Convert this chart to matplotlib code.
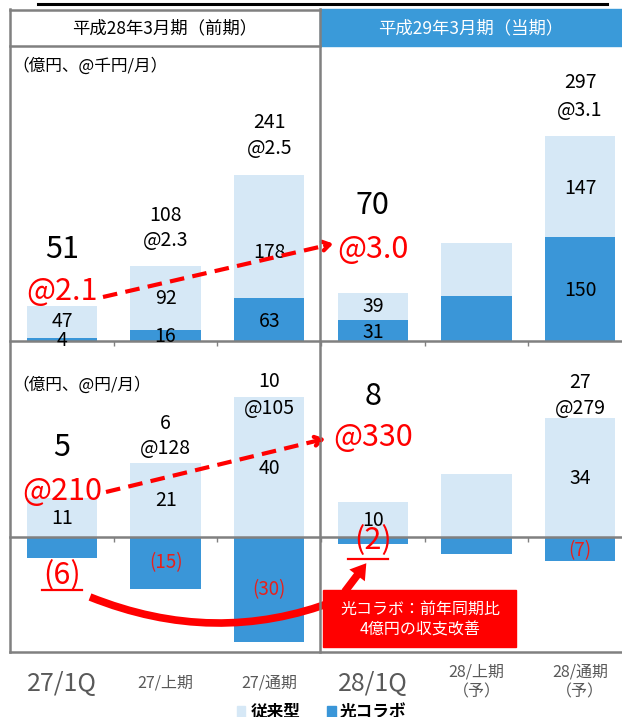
import numpy as np
import matplotlib
matplotlib.use('Agg')
import matplotlib.pyplot as plt
from matplotlib.lines import Line2D
from matplotlib.patches import Rectangle, FancyArrowPatch, PathPatch
from matplotlib.path import Path
import matplotlib.transforms as mtrans

plt.rcParams['font.family'] = ['Noto Sans CJK JP', 'DejaVu Sans']

# ---------------- data ----------------
categories = ['27/1Q', '27/上期', '27/通期', '28/1Q', '28/上期\n（予）', '28/通期\n（予）']
rev_legacy = [47, 92, 178, 39, 77, 147]
rev_hikari = [4, 16, 63, 31, 65, 150]
rev_total = ['51', '108', '241', '70', '', '297']
rev_arpu = ['@2.1', '@2.3', '@2.5', '@3.0', '', '@3.1']
prof_legacy = [11, 21, 40, 10, 18, 34]
prof_hikari = [-6, -15, -30, -2, -5, -7]
prof_total = ['5', '6', '10', '8', '', '27']
prof_arpu = ['@210', '@128', '@105', '@330', '', '@279']
legend_labels = ['従来型', '光コラボ']
header_labels = ['平成28年3月期（前期）', '平成29年3月期（当期）']

LIGHT = '#d6e8f6'
BLUE = '#3a96d8'
HDR = '#3a9ad9'
GRAY = '#808080'
RED = '#ff0000'

W, H = 622, 717
fig = plt.figure(figsize=(W / 100, H / 100), dpi=100)


def fx(v):
    return v / W


def fy(v):
    return 1 - v / H


ax1 = fig.add_axes([fx(10), fy(341), fx(622) - fx(10), fy(46) - fy(341)])
ax2 = fig.add_axes([fx(10), fy(652), fx(622) - fx(10), fy(341) - fy(652)])

x = np.arange(len(categories))
bw = 0.68
for ax in (ax1, ax2):
    ax.set_xlim(-0.502, 5.405)
    for s in ax.spines.values():
        s.set_visible(False)
    ax.spines['bottom'].set_visible(True)
    ax.spines['bottom'].set_color(GRAY)
    ax.spines['bottom'].set_linewidth(1.8)
    ax.set_yticks([])
    ax.set_xticks(x[:-1] + 0.5)
    ax.tick_params(axis='x', length=3.6, width=1, color=GRAY, labelbottom=False)
    ax.patch.set_alpha(0)

ax1.set_ylim(0, 427.5)
ax2.set_ylim(-32.9, 56)
ax2.spines['bottom'].set_position(('data', 0))

ax1.bar(x, rev_hikari, bw, color=BLUE, linewidth=0, label=legend_labels[1])
ax1.bar(x, rev_legacy, bw, bottom=rev_hikari, color=LIGHT, linewidth=0, label=legend_labels[0])
ax2.bar(x, prof_legacy, bw, color=LIGHT, linewidth=0)
ax2.bar(x, prof_hikari, bw, color=BLUE, linewidth=0)

# ---------------- frame ----------------
def fline(xs, ys, **kw):
    fig.add_artist(Line2D([fx(v) for v in xs], [fy(v) for v in ys], **kw))

fig.add_artist(Rectangle((fx(320), fy(46)), fx(622) - fx(320), fy(9) - fy(46),
                         color=HDR, transform=fig.transFigure, zorder=0))
fline([38, 607], [4, 4], color='black', lw=2.2)
fline([10, 320], [9.5, 9.5], color=GRAY, lw=1.8)
fline([10, 320], [46, 46], color=GRAY, lw=1.8)
fline([10, 10], [9, 652], color=GRAY, lw=1.8)
fline([320, 320], [9, 652], color=GRAY, lw=1.8)
fline([10, 622], [652, 652], color=GRAY, lw=1.8)

fig.text(fx(165), fy(28), header_labels[0], ha='center', va='center', fontsize=12.5, color='black')
fig.text(fx(471), fy(28), header_labels[1], ha='center', va='center', fontsize=12.5, color='white')

fig.text(fx(12), fy(66), '（億円、@千円/月）', ha='left', va='center', fontsize=12, color='black')
fig.text(fx(12), fy(385), '（億円、@円/月）', ha='left', va='center', fontsize=12, color='black')


def T(ax, xd, ypx, s, **kw):
    tr = mtrans.blended_transform_factory(ax.transData, fig.transFigure)
    kw.setdefault('ha', 'center')
    kw.setdefault('va', 'center')
    return ax.text(xd, fy(ypx), s, transform=tr, **kw)

SM = 14
BIG = 22

# ---- top panel labels ----
seg_top_legacy_y = [322, 298, 253, 307, None, 188]
seg_top_hikari_y = [340, 337, 322, 332, None, 291]
for i in range(len(categories)):
    if seg_top_legacy_y[i] is not None:
        T(ax1, x[i], seg_top_legacy_y[i], str(rev_legacy[i]), fontsize=SM)
        T(ax1, x[i], seg_top_hikari_y[i], str(rev_hikari[i]), fontsize=SM)

tot_top_y = [250, 215, 123, 205, None, 83]
arpu_top_y = [292, 240, 149, 250, None, 111]
big_idx = [0, 3]
for i in range(len(categories)):
    if tot_top_y[i] is None:
        continue
    if i in big_idx:
        T(ax1, x[i], tot_top_y[i], rev_total[i], fontsize=BIG)
        T(ax1, x[i], arpu_top_y[i], rev_arpu[i], fontsize=BIG, color=RED)
    else:
        T(ax1, x[i], tot_top_y[i], rev_total[i], fontsize=SM)
        T(ax1, x[i], arpu_top_y[i], rev_arpu[i], fontsize=SM)

# ---- bottom panel labels ----
seg_bot_legacy_y = [518, 501, 468, 521, None, 479]
for i in range(len(categories)):
    if seg_bot_legacy_y[i] is not None:
        T(ax2, x[i], seg_bot_legacy_y[i], str(prof_legacy[i]), fontsize=SM)

tot_bot_y = [447, 423, 382, 397, None, 383]
arpu_bot_y = [492, 448, 408, 438, None, 408]
for i in range(len(categories)):
    if tot_bot_y[i] is None:
        continue
    if i in big_idx:
        T(ax2, x[i], tot_bot_y[i], prof_total[i], fontsize=BIG)
        T(ax2, x[i], arpu_bot_y[i], prof_arpu[i], fontsize=BIG, color=RED)
    else:
        T(ax2, x[i], tot_bot_y[i], prof_total[i], fontsize=SM)
        T(ax2, x[i], arpu_bot_y[i], prof_arpu[i], fontsize=SM)

neg_y = {0: 576, 1: 563, 2: 590, 3: 541, 5: 551}
for i, yy in neg_y.items():
    s = '(%d)' % (-prof_hikari[i])
    if i in big_idx:
        T(ax2, x[i], yy, s, fontsize=BIG, color=RED)
    else:
        T(ax2, x[i], yy, s, fontsize=13.5, color='#e8201a')

fline([42, 82], [590, 590], color=RED, lw=1.6)
fline([348, 388], [559, 559], color=RED, lw=1.6)

# ---- dashed arrows ----
def dashed_arrow(p0, p1):
    fline([p0[0], p1[0] - 6], [p0[1], p1[1] + 1.5], color=RED, lw=3, ls=(0, (3.5, 2)))
    v = np.array([p1[0] - p0[0], p1[1] - p0[1]], float)
    v /= np.hypot(*v)
    st = np.array(p1) - v * 14
    fig.add_artist(FancyArrowPatch((fx(st[0]), fy(st[1])), (fx(p1[0]), fy(p1[1])),
                                   transform=fig.transFigure,
                                   arrowstyle='->,head_length=5,head_width=3.2',
                                   color=RED, lw=3, mutation_scale=1))

dashed_arrow((103, 297), (336, 243))
dashed_arrow((106, 492), (328, 438))

# ---- curved thick line ----
verts = [(fx(90), fy(597)), (fx(215), fy(647)), (fx(335), fy(601))]
fig.add_artist(PathPatch(Path(verts, [Path.MOVETO, Path.CURVE3, Path.CURVE3]),
                         transform=fig.transFigure, fill=False, edgecolor=RED,
                         lw=5.5, capstyle='butt'))

# ---- callout box ----
fig.add_artist(Rectangle((fx(323), fy(647)), fx(516) - fx(323), fy(590) - fy(647),
                         color=RED, transform=fig.transFigure, zorder=5))
fig.text(fx(420), fy(609), '光コラボ：前年同期比', ha='center', va='center',
         fontsize=11.5, color='white', zorder=6)
fig.text(fx(420), fy(630), '4億円の収支改善', ha='center', va='center',
         fontsize=11.5, color='white', zorder=6)
fig.add_artist(FancyArrowPatch((fx(343), fy(594)), (fx(368), fy(561)),
                               transform=fig.transFigure,
                               arrowstyle='simple,head_length=11,head_width=14,tail_width=5.5',
                               mutation_scale=1, color=RED, lw=0, zorder=6))

# ---- category labels ----
for i, c in enumerate(categories):
    tr = mtrans.blended_transform_factory(ax2.transData, fig.transFigure)
    if i in big_idx:
        ax2.text(x[i], fy(684), c, transform=tr, ha='center', va='center',
                 fontsize=18, color='#595959')
    elif '\n' in c:
        ax2.text(x[i], fy(682), c, transform=tr, ha='center', va='center',
                 fontsize=11.5, color='#595959', linespacing=1.25)
    else:
        ax2.text(x[i], fy(683), c, transform=tr, ha='center', va='center',
                 fontsize=11.5, color='#595959')

# ---- legend ----
fig.add_artist(Rectangle((fx(237), fy(717)), fx(8), fy(706) - fy(717), color=LIGHT,
                         transform=fig.transFigure))
fig.text(fx(251), fy(712), legend_labels[0], ha='left', va='center', fontsize=12,
         fontweight='bold', color='black')
fig.add_artist(Rectangle((fx(327), fy(717)), fx(9), fy(706) - fy(717), color=BLUE,
                         transform=fig.transFigure))
fig.text(fx(340), fy(712), legend_labels[1], ha='left', va='center', fontsize=12,
         fontweight='bold', color='black')

fig.savefig('out.png', dpi=100)
